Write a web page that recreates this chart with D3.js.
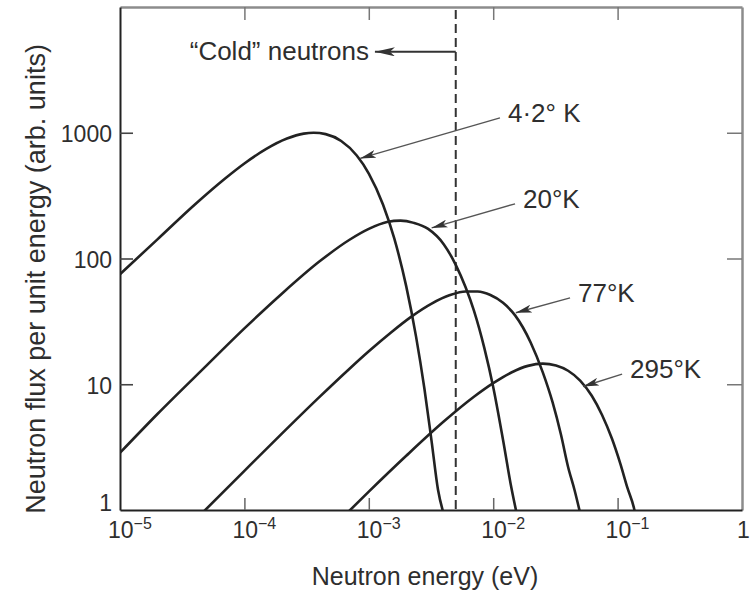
<!DOCTYPE html>
<html>
<head>
<meta charset="utf-8">
<script src="https://cdn.jsdelivr.net/npm/d3@7"></script>
<style>
  body { margin: 0; background: #fff; }
  svg { display: block; font-family: "Liberation Sans", Arial, sans-serif; }
</style>
</head>
<body>
<svg id="chart" width="751" height="594"></svg>
<script>
// Neutron flux per unit energy for moderators at four temperatures (arbitrary units)
const temperatureLabels = ["4·2° K", "20°K", "77°K", "295°K"];

const energy4K = [1e-5, 2e-5, 4e-5, 7e-5, 1e-4, 1.5e-4, 2.2e-4, 3e-4, 3.6e-4, 4.5e-4, 6e-4, 8e-4, 1e-3, 1.3e-3, 1.6e-3, 2e-3, 2.4e-3, 2.8e-3, 3.2e-3, 3.6e-3, 4e-3];
const flux4K   = [75, 142, 269, 433, 570, 744, 899, 984, 1000, 975, 859, 659, 474, 269, 145, 60, 23.8, 9.2, 3.5, 1.45, 0.93];

const energy20K = [1e-5, 2e-5, 5e-5, 1e-4, 2e-4, 4e-4, 7e-4, 1e-3, 1.4e-3, 1.8e-3, 2.3e-3, 3e-3, 4e-3, 5e-3, 6e-3, 7e-3, 8.5e-3, 1e-2, 1.2e-2, 1.4e-2, 1.6e-2];
const flux20K   = [2.85, 5.8, 14.2, 27.8, 52.5, 94.5, 141, 172, 195, 200, 192, 172, 130, 89, 59, 38.5, 19.3, 9.5, 3.6, 1.5, 0.8];

const energy77K = [4.5e-5, 1e-4, 2e-4, 4e-4, 7e-4, 1e-3, 1.5e-3, 2.2e-3, 3.2e-3, 4.5e-3, 6e-3, 7.5e-3, 9.5e-3, 1.2e-2, 1.5e-2, 2e-2, 2.5e-2, 3e-2, 3.5e-2, 4e-2, 4.5e-2, 5.2e-2];
const flux77K   = [0.93, 2.05, 4.05, 7.9, 13.3, 18.3, 25.7, 34.5, 43.8, 51.2, 54.7, 54.6, 51.2, 44.4, 35.3, 21.5, 12.5, 7.2, 4.0, 2.2, 1.45, 0.8];

const energy295K = [6.5e-4, 1e-3, 2e-3, 4e-3, 7e-3, 1e-2, 1.4e-2, 1.9e-2, 2.5e-2, 3.2e-2, 4e-2, 5e-2, 6.2e-2, 7.5e-2, 9e-2, 0.105, 0.12, 0.135, 0.145];
const flux295K   = [0.92, 1.4, 2.7, 5.05, 7.95, 10.2, 12.4, 14.0, 14.6, 14.1, 12.8, 10.7, 8.1, 5.7, 3.7, 2.35, 1.5, 1.05, 0.75];

// Label anchors (start of text baseline) and arrow tips on each curve
const labelEnergy = [1.314e-2, 1.738e-2, 4.81e-2, 0.126];
const labelFlux   = [1222, 253, 45.2, 11.2];
const tipEnergy   = [8.5e-4, 3.2e-3, 1.52e-2, 5.27e-2];
const tipFlux     = [625, 175, 37, 9.6];

// Upper energy limit of the "cold" region
const coldLimit = 5e-3;
const coldArrowFlux = 4400;
const coldArrowTipEnergy = 1.12e-3;

const xTickValues = [1e-5, 1e-4, 1e-3, 1e-2, 1e-1, 1];
const xTickExponents = ["−5", "−4", "−3", "−2", "−1", ""];
const yTickValues = [1, 10, 100, 1000];
const yTickLabels = ["1", "10", "100", "1000"];

const series = [
  energy4K.map((e, i) => [e, flux4K[i]]),
  energy20K.map((e, i) => [e, flux20K[i]]),
  energy77K.map((e, i) => [e, flux77K[i]]),
  energy295K.map((e, i) => [e, flux295K[i]])
];

const svg = d3.select("#chart");
const plot = { left: 120, right: 742, top: 7, bottom: 510 };

const x = d3.scaleLog().domain([1e-5, 1]).range([plot.left, plot.right]);
const y = d3.scaleLog().domain([1, 1e4]).range([plot.bottom, plot.top]);

const ink = "#222";
const textInk = "#2e2e2e";

svg.append("rect").attr("width", 751).attr("height", 594).attr("fill", "#fff");

const defs = svg.append("defs");
defs.append("clipPath").attr("id", "plot-clip")
  .append("rect")
  .attr("x", plot.left).attr("y", plot.top)
  .attr("width", plot.right - plot.left).attr("height", plot.bottom - plot.top);

defs.append("marker")
  .attr("id", "head-small")
  .attr("viewBox", "0 0 16 8")
  .attr("refX", 16).attr("refY", 4)
  .attr("markerWidth", 16).attr("markerHeight", 8)
  .attr("markerUnits", "userSpaceOnUse")
  .attr("orient", "auto")
  .append("path").attr("d", "M0,0 L16,4 L0,8 L4,4 Z").attr("fill", "#333");

defs.append("marker")
  .attr("id", "head-large")
  .attr("viewBox", "0 0 20 9")
  .attr("refX", 20).attr("refY", 4.5)
  .attr("markerWidth", 20).attr("markerHeight", 9)
  .attr("markerUnits", "userSpaceOnUse")
  .attr("orient", "auto")
  .append("path").attr("d", "M0,0 L20,4.5 L0,9 L5,4.5 Z").attr("fill", "#333");

// Frame: top and right edges in lighter grey
const topAxis = d3.axisTop(x).tickValues([1e-4, 1e-3, 1e-2, 1e-1])
  .tickSizeInner(-13).tickSizeOuter(0).tickFormat("");
const gTop = svg.append("g").attr("transform", `translate(0,${plot.top})`).call(topAxis);
gTop.select(".domain").attr("stroke", "#8c8c8c").attr("stroke-width", 2.5);
gTop.selectAll(".tick line").attr("stroke", "#777").attr("stroke-width", 1.5);

const rightAxis = d3.axisRight(y).tickValues([10, 100, 1000])
  .tickSizeInner(-15).tickSizeOuter(0).tickFormat("");
const gRight = svg.append("g").attr("transform", `translate(${plot.right},0)`).call(rightAxis);
gRight.select(".domain").attr("stroke", "#8c8c8c").attr("stroke-width", 2.5);
gRight.selectAll(".tick line").attr("stroke", "#777").attr("stroke-width", 1.5);

// Left axis
const leftAxis = d3.axisLeft(y).tickValues(yTickValues)
  .tickSizeInner(-13).tickSizeOuter(0).tickPadding(8)
  .tickFormat((d, i) => yTickLabels[i]);
const gLeft = svg.append("g").attr("transform", `translate(${plot.left},0)`).call(leftAxis);
gLeft.select(".domain").attr("stroke", ink).attr("stroke-width", 2);
gLeft.selectAll(".tick line").attr("stroke", "#444").attr("stroke-width", 1.6)
  .filter(d => d === 1).remove();
gLeft.selectAll(".tick text")
  .attr("font-family", "\"Liberation Sans\", Arial, sans-serif")
  .attr("font-size", 23).attr("fill", textInk)
  .attr("dy", d => d === 1 ? "0em" : "0.38em");

// Bottom axis
const bottomAxis = d3.axisBottom(x).tickValues(xTickValues)
  .tickSizeInner(-12).tickSizeOuter(0).tickFormat("");
const gBottom = svg.append("g").attr("transform", `translate(0,${plot.bottom})`).call(bottomAxis);
gBottom.select(".domain").attr("stroke", ink).attr("stroke-width", 2);
gBottom.selectAll(".tick line").attr("stroke", "#666").attr("stroke-width", 1.5)
  .filter(d => d === 1e-5 || d === 1).remove();

const xLabels = svg.append("g")
  .attr("font-size", 23).attr("fill", textInk);
xLabels.selectAll("text")
  .data(xTickValues)
  .join("text")
  .attr("x", (d, i) => x(d) + (xTickExponents[i] ? -12 : -5))
  .attr("y", plot.bottom + 28)
  .each(function (d, i) {
    const t = d3.select(this);
    if (xTickExponents[i]) {
      t.append("tspan").text("10");
      t.append("tspan").attr("font-size", 16).attr("dy", -9).text(xTickExponents[i]);
    } else {
      t.text("1");
    }
  });

// Axis titles
svg.append("text")
  .attr("x", 425).attr("y", 585)
  .attr("text-anchor", "middle")
  .attr("font-size", 25).attr("fill", textInk)
  .text("Neutron energy (eV)");

svg.append("text")
  .attr("transform", "translate(45,279) rotate(-90)")
  .attr("text-anchor", "middle")
  .attr("font-size", 27).attr("fill", textInk)
  .text("Neutron flux per unit energy (arb. units)");

// Cold-neutron boundary
svg.append("line")
  .attr("x1", x(coldLimit)).attr("x2", x(coldLimit))
  .attr("y1", plot.top + 3).attr("y2", plot.bottom)
  .attr("stroke", "#333").attr("stroke-width", 2)
  .attr("stroke-dasharray", "9,5");

svg.append("line")
  .attr("x1", x(coldLimit)).attr("y1", y(coldArrowFlux))
  .attr("x2", x(coldArrowTipEnergy)).attr("y2", y(coldArrowFlux))
  .attr("stroke", "#333").attr("stroke-width", 2)
  .attr("marker-end", "url(#head-large)");

svg.append("text")
  .attr("x", x(coldArrowTipEnergy) - 6).attr("y", y(coldArrowFlux) + 8)
  .attr("text-anchor", "end")
  .attr("font-size", 26).attr("fill", textInk)
  .text("“Cold” neutrons");

// Spectra
const line = d3.line()
  .x(d => x(d[0]))
  .y(d => y(d[1]))
  .curve(d3.curveMonotoneX);

svg.append("g").attr("clip-path", "url(#plot-clip)")
  .selectAll("path")
  .data(series)
  .join("path")
  .attr("d", line)
  .attr("fill", "none")
  .attr("stroke", ink)
  .attr("stroke-width", 2.6)
  .attr("stroke-linejoin", "round");

// Temperature labels with leader arrows
const labels = svg.append("g");
temperatureLabels.forEach((label, i) => {
  const lx = x(labelEnergy[i]);
  const ly = y(labelFlux[i]);
  labels.append("line")
    .attr("x1", lx - 8).attr("y1", ly - 4)
    .attr("x2", x(tipEnergy[i])).attr("y2", y(tipFlux[i]))
    .attr("stroke", "#555").attr("stroke-width", 1.4)
    .attr("marker-end", "url(#head-small)");
  labels.append("text")
    .attr("x", lx).attr("y", ly)
    .attr("font-size", 26).attr("fill", textInk)
    .text(label);
});
</script>
</body>
</html>
